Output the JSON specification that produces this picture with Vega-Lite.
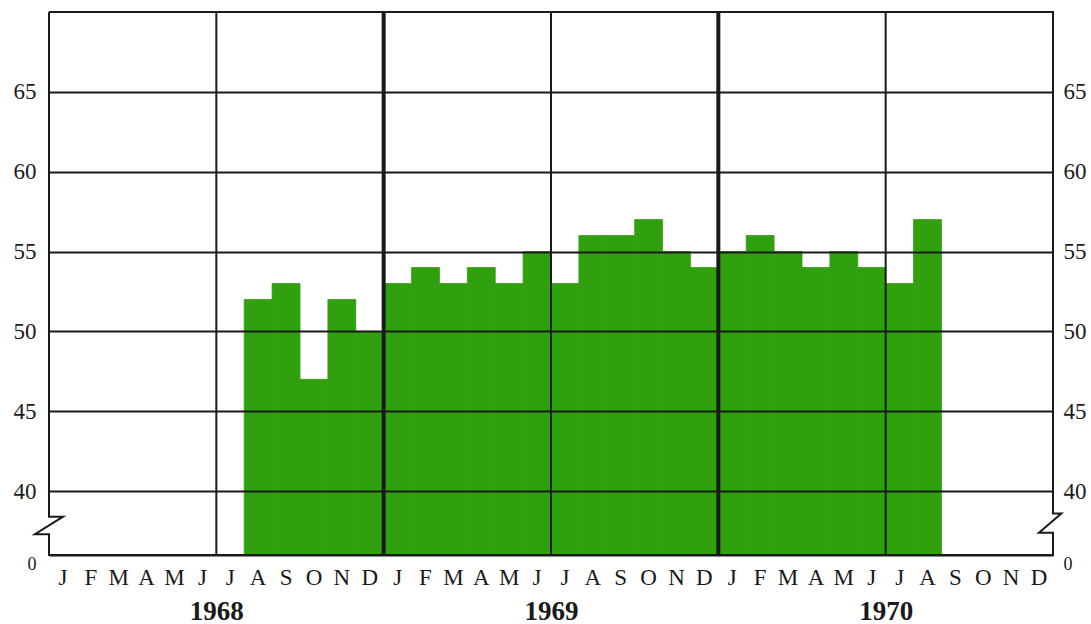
{
  "$schema": "https://vega.github.io/schema/vega-lite/v6.json",
  "width": 1004,
  "height": 543,
  "autosize": "none",
  "padding": {"left": 49, "top": 12, "right": 38, "bottom": 69},
  "background": "white",
  "config": {"view": {"stroke": null}, "font": "Liberation Serif"},
  "datasets": {
    "bars": [
      {"month": "1968-08", "value": 52}, {"month": "1968-09", "value": 53}, {"month": "1968-10", "value": 47},
      {"month": "1968-11", "value": 52}, {"month": "1968-12", "value": 50},
      {"month": "1969-01", "value": 53}, {"month": "1969-02", "value": 54}, {"month": "1969-03", "value": 53},
      {"month": "1969-04", "value": 54}, {"month": "1969-05", "value": 53}, {"month": "1969-06", "value": 55},
      {"month": "1969-07", "value": 53}, {"month": "1969-08", "value": 56}, {"month": "1969-09", "value": 56},
      {"month": "1969-10", "value": 57}, {"month": "1969-11", "value": 55}, {"month": "1969-12", "value": 54},
      {"month": "1970-01", "value": 55}, {"month": "1970-02", "value": 56}, {"month": "1970-03", "value": 55},
      {"month": "1970-04", "value": 54}, {"month": "1970-05", "value": 55}, {"month": "1970-06", "value": 54},
      {"month": "1970-07", "value": 53}, {"month": "1970-08", "value": 57}
    ],
    "dividers": [
      {"t": 1968.5, "kind": "half"}, {"t": 1969, "kind": "year"}, {"t": 1969.5, "kind": "half"},
      {"t": 1970, "kind": "year"}, {"t": 1970.5, "kind": "half"}
    ],
    "frame": [
      {"t": 1968, "v": 70, "o": 1}, {"t": 1971, "v": 70, "o": 2}, {"t": 1971, "v": 38.6, "o": 3},
      {"t": 1971.025, "v": 38.6, "o": 4}, {"t": 1970.958, "v": 37.4, "o": 5}, {"t": 1971, "v": 37.4, "o": 6},
      {"t": 1971, "v": 36, "o": 7}, {"t": 1968, "v": 36, "o": 8}, {"t": 1968, "v": 37.3, "o": 9},
      {"t": 1967.958, "v": 37.3, "o": 10}, {"t": 1968.042, "v": 38.4, "o": 11}, {"t": 1968, "v": 38.4, "o": 12},
      {"t": 1968, "v": 70, "o": 13}
    ]
  },
  "resolve": {"scale": {"x": "independent"}, "axis": {"x": "independent", "y": "independent"}},
  "layer": [
    {
      "data": {"name": "bars"},
      "mark": {"type": "bar", "color": "#31a00f", "stroke": "#31a00f", "strokeWidth": 0.8, "clip": true},
      "encoding": {
        "x": {
          "field": "month", "type": "ordinal",
          "scale": {
            "domain": ["1968-01","1968-02","1968-03","1968-04","1968-05","1968-06","1968-07","1968-08","1968-09","1968-10","1968-11","1968-12",
                       "1969-01","1969-02","1969-03","1969-04","1969-05","1969-06","1969-07","1969-08","1969-09","1969-10","1969-11","1969-12",
                       "1970-01","1970-02","1970-03","1970-04","1970-05","1970-06","1970-07","1970-08","1970-09","1970-10","1970-11","1970-12"],
            "paddingInner": 0, "paddingOuter": 0
          },
          "axis": {
            "orient": "bottom", "title": null, "ticks": false, "domain": false, "grid": false,
            "labelAngle": 0, "labelFontSize": 23, "labelPadding": 11, "labelColor": "#1a1a1a",
            "labelFont": "Liberation Serif",
            "labelExpr": "substring('JFMAMJJASOND', toNumber(slice(datum.value, 5)) - 1, toNumber(slice(datum.value, 5)))"
          }
        },
        "y": {
          "field": "value", "type": "quantitative",
          "scale": {"domain": [36, 70], "zero": false, "nice": false},
          "axis": {
            "orient": "left", "title": null, "values": [36, 40, 45, 50, 55, 60, 65],
            "labelExpr": "datum.value == 36 ? '0' : datum.label",
            "labelFontSize": {"condition": {"test": "datum.value == 36", "value": 18}, "value": 23},
            "labelBaseline": {"condition": {"test": "datum.value == 36", "value": "top"}, "value": "middle"},
            "grid": true, "gridColor": "#1a1a1a", "gridWidth": 2, "gridOpacity": 1,
            "domain": false, "ticks": false, "labelPadding": 13,
            "labelColor": "#1a1a1a", "labelFont": "Liberation Serif", "zindex": 1
          }
        }
      }
    },
    {
      "layer": [
        {
          "data": {"name": "dividers"},
          "mark": {"type": "rule", "color": "#1a1a1a"},
          "encoding": {
            "x": {
              "field": "t", "type": "quantitative",
              "scale": {"domain": [1968, 1971], "nice": false, "zero": false},
              "axis": {
                "orient": "bottom", "title": null, "values": [1968.5, 1969.5, 1970.5],
                "labelExpr": "'' + floor(datum.value)", "ticks": false, "domain": false, "grid": false,
                "labelFontSize": 27, "labelFontWeight": "bold", "labelPadding": 43,
                "labelColor": "#1a1a1a", "labelFont": "Liberation Serif"
              }
            },
            "size": {
              "field": "kind", "type": "nominal",
              "scale": {"domain": ["half", "year"], "range": [2, 4]},
              "legend": null
            }
          }
        },
        {
          "data": {"name": "frame"},
          "mark": {"type": "line", "color": "#1a1a1a", "strokeWidth": 2, "clip": false, "strokeJoin": "miter"},
          "encoding": {
            "x": {"field": "t", "type": "quantitative"},
            "y": {
              "field": "v", "type": "quantitative",
              "axis": {
                "orient": "right", "title": null, "values": [36, 40, 45, 50, 55, 60, 65],
                "labelExpr": "datum.value == 36 ? '0' : datum.label",
                "labelFontSize": {"condition": {"test": "datum.value == 36", "value": 18}, "value": 23},
                "labelBaseline": {"condition": {"test": "datum.value == 36", "value": "top"}, "value": "middle"},
                "grid": false, "domain": false, "ticks": false, "labelPadding": 10,
                "labelColor": "#1a1a1a", "labelFont": "Liberation Serif"
              }
            },
            "order": {"field": "o", "type": "quantitative"}
          }
        }
      ]
    }
  ]
}
